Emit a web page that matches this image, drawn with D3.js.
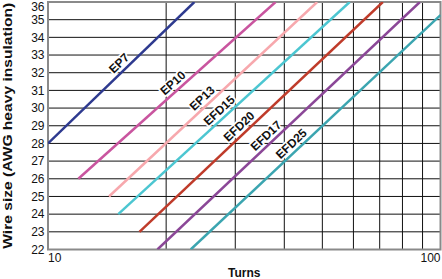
<!DOCTYPE html>
<html>
<head>
<meta charset="utf-8">
<script src="https://cdn.jsdelivr.net/npm/d3@7"></script>
<style>
  body { margin: 0; background: #fff; }
  svg { display: block; font-family: "Liberation Sans", Arial, Helvetica, sans-serif; }
</style>
</head>
<body>
<div id="chart"></div>
<script>
const core_names = ["EP7", "EP10", "EP13", "EFD15", "EFD20", "EFD17", "EFD25"];
const line_colors = ["#2e3a8f", "#c9559f", "#f7a8ad", "#4cc6d1", "#bf3b2a", "#8b4797", "#3ba5b0"];
// each line: start point and end point (turns, AWG)
const start_turns = [10, 11.95, 14.3, 15.1, 17.1, 19.0, 23.1];
const start_awg = [28, 26, 25, 24, 23, 22, 22];
const end_turns = [23.6, 38.0, 48.5, 58.7, 71.3, 88.6, 100];
const end_awg = [36, 36, 36, 36, 36, 36, 35.26];
// AWG value along each line where its label sits
const label_awg = [32.2, 31.07, 30.22, 29.52, 28.62, 28.09, 27.64];

const awg_ticks = d3.range(22, 37);
const turn_grid = [20, 30, 40, 50, 60, 70, 80, 90];
const turn_labels = [10, 100];

const svg_width = 442;
const svg_height = 279;
const margins = [2, 1.5, 29.5, 48]; //top, right, bottom, left

const [margin_top, margin_right, margin_bottom, margin_left] = margins;

const x_axis = d3
  .scaleLog()
  .domain([10, 100])
  .range([margin_left, svg_width - margin_right]);
const y_axis = d3
  .scaleLinear()
  .domain([22, 36])
  .range([svg_height - margin_bottom, margin_top]);

const svg = d3
  .select("#chart")
  .append("svg")
  .attr("width", svg_width)
  .attr("height", svg_height);

svg
  .append("clipPath")
  .attr("id", "plot_clip")
  .append("rect")
  .attr("x", x_axis(10))
  .attr("y", y_axis(36))
  .attr("width", x_axis(100) - x_axis(10))
  .attr("height", y_axis(22) - y_axis(36));

// grid
const grid = svg.append("g").attr("stroke", "#111").attr("stroke-width", 1);
grid
  .selectAll(".h_grid")
  .data(awg_ticks.filter((d) => d > 22 && d < 36))
  .join("line")
  .attr("x1", x_axis(10))
  .attr("x2", x_axis(100))
  .attr("y1", (d) => y_axis(d))
  .attr("y2", (d) => y_axis(d));
grid
  .selectAll(".v_grid")
  .data(turn_grid)
  .join("line")
  .attr("x1", (d) => x_axis(d))
  .attr("x2", (d) => x_axis(d))
  .attr("y1", y_axis(22))
  .attr("y2", y_axis(36));

svg
  .append("rect")
  .attr("x", x_axis(10))
  .attr("y", y_axis(36))
  .attr("width", x_axis(100) - x_axis(10))
  .attr("height", y_axis(22) - y_axis(36))
  .attr("fill", "none")
  .attr("stroke", "#8a8a8a")
  .attr("stroke-width", 2);

// lines
const lines_data = core_names.map((name, i) => ({
  name: name,
  color: line_colors[i],
  points: [
    [start_turns[i], start_awg[i]],
    [end_turns[i], end_awg[i]],
  ],
}));

const line_gen = d3
  .line()
  .x(([t, a]) => x_axis(t))
  .y(([t, a]) => y_axis(a));

svg
  .append("g")
  .attr("clip-path", "url(#plot_clip)")
  .selectAll("path")
  .data(lines_data)
  .join("path")
  .attr("fill", "none")
  .attr("stroke", (d) => d.color)
  .attr("stroke-width", 2.5)
  .attr("d", (d) => line_gen(d.points));

// labels, sitting just above each line
function labelPosition(d, i) {
  const [p0, p1] = d.points.map(([t, a]) => [x_axis(t), y_axis(a)]);
  const f = (label_awg[i] - start_awg[i]) / (end_awg[i] - start_awg[i]);
  const fx = p0[0] + (p1[0] - p0[0]) * f;
  const fy = p0[1] + (p1[1] - p0[1]) * f;
  const angle = Math.atan2(p1[1] - p0[1], p1[0] - p0[0]);
  const off = 8.5;
  return {
    x: fx + off * Math.sin(angle),
    y: fy - off * Math.cos(angle),
    deg: (angle * 180) / Math.PI,
  };
}

svg
  .append("g")
  .selectAll("text")
  .data(lines_data)
  .join("text")
  .each(function (d, i) {
    const pos = labelPosition(d, i);
    d3.select(this).attr("transform", `translate(${pos.x},${pos.y}) rotate(${pos.deg})`);
  })
  .attr("text-anchor", "middle")
  .attr("dy", "0.36em")
  .attr("font-size", 12)
  .attr("font-weight", "bold")
  .attr("fill", "#111")
  .attr("stroke", "#fff")
  .attr("stroke-width", 3.5)
  .attr("stroke-linejoin", "round")
  .attr("paint-order", "stroke")
  .text((d) => d.name);

// y tick labels (top one nudged down so it stays inside the picture)
svg
  .append("g")
  .selectAll("text")
  .data(awg_ticks)
  .join("text")
  .attr("x", margin_left - 3.5)
  .attr("y", (d) => Math.max(y_axis(d), 6.5))
  .attr("dy", "0.36em")
  .attr("text-anchor", "end")
  .attr("font-size", 12)
  .attr("fill", "#111")
  .text((d) => d);

// x tick labels
svg
  .append("g")
  .selectAll("text")
  .data(turn_labels)
  .join("text")
  .attr("x", (d) => x_axis(d))
  .attr("y", 262)
  .attr("text-anchor", (d, i) => (i === 0 ? "start" : "end"))
  .attr("font-size", 12)
  .attr("fill", "#111")
  .text((d) => d);

// axis titles
svg
  .append("text")
  .attr("x", (x_axis(10) + x_axis(100)) / 2)
  .attr("y", 277)
  .attr("text-anchor", "middle")
  .attr("font-size", 12)
  .attr("font-weight", "bold")
  .attr("fill", "#111")
  .text("Turns");

svg
  .append("text")
  .attr("transform", `translate(11.5,${(y_axis(22) + y_axis(36)) / 2}) rotate(-90)`)
  .attr("text-anchor", "middle")
  .attr("font-size", 12)
  .attr("font-weight", "bold")
  .attr("fill", "#111")
  .attr("textLength", 246)
  .attr("lengthAdjust", "spacingAndGlyphs")
  .text("Wire size (AWG heavy insulation)");
</script>
</body>
</html>
